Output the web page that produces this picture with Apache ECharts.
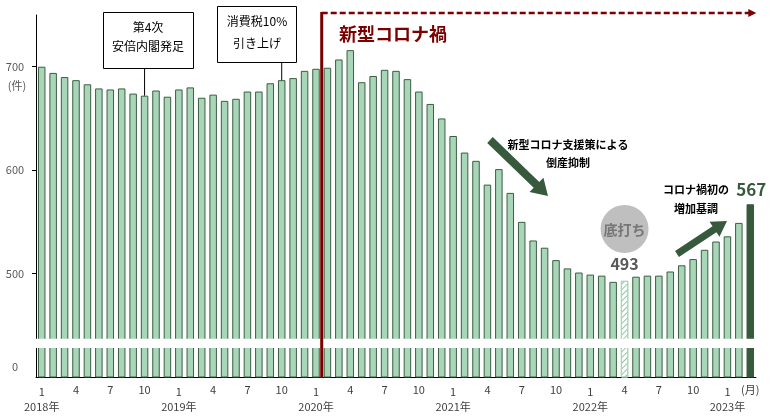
<!DOCTYPE html>
<html>
<head>
<meta charset="utf-8">
<script src="https://cdn.jsdelivr.net/npm/echarts@6/dist/echarts.min.js"></script>
<style>html,body{margin:0;padding:0;background:#fff}#c{width:770px;height:420px}</style>
</head>
<body>
<div id="c"></div>
<script>
// ---- data ----
const categories = [
  '2018/1','2018/2','2018/3','2018/4','2018/5','2018/6','2018/7','2018/8','2018/9','2018/10','2018/11','2018/12',
  '2019/1','2019/2','2019/3','2019/4','2019/5','2019/6','2019/7','2019/8','2019/9','2019/10','2019/11','2019/12',
  '2020/1','2020/2','2020/3','2020/4','2020/5','2020/6','2020/7','2020/8','2020/9','2020/10','2020/11','2020/12',
  '2021/1','2021/2','2021/3','2021/4','2021/5','2021/6','2021/7','2021/8','2021/9','2021/10','2021/11','2021/12',
  '2022/1','2022/2','2022/3','2022/4','2022/5','2022/6','2022/7','2022/8','2022/9','2022/10','2022/11','2022/12',
  '2023/1','2023/2','2023/3'
];
const bankruptcies = [
  700, 694, 690, 687, 683, 679, 678, 679, 674, 672, 677, 671,
  678, 680, 670, 673, 667, 669, 676, 676, 684, 687, 689, 696,
  698, 699, 707, 716, 685, 691, 697, 696, 688, 676, 664, 650,
  633, 617, 609, 586, 601, 578, 550, 532, 525, 513, 505, 501,
  499, 498, 492, 493, 497, 498, 498, 502, 508, 514, 523, 531,
  536, 549, 567
];
const shownMonths = ['1', '4', '7', '10'];
const monthUnitLabel = '(月)';
const yUnitLabel = '(件)';
const yTickValues = [500, 600, 700];
const yLabelValues = [410, 500, 600, 700];   // 410 = position of the broken-axis "0"
const yLabelTexts = ['0', '500', '600', '700'];
const axisBreak = [428, 437];
const bottomIndex = 51;   // 2022/4
const latestIndex = 62;   // 2023/3
const covidStartIndex = 25; // 2020/2
const cabinetIndex = 9;   // 2018/10
const taxIndex = 21;      // 2019/10

// ---- style ----
const FONT = '"Noto Sans CJK JP", "Noto Sans", sans-serif';
const BAR_FILL = '#a9d6b9';
const BAR_EDGE = '#3a5e41';
const DARK_GREEN = '#37593c';
const DARK_RED = '#7b0000';

const chart = echarts.init(document.getElementById('c'));

const barData = bankruptcies.map((v, i) => {
  if (i === bottomIndex) {
    return { value: v, itemStyle: { color: '#ffffff', borderColor: BAR_FILL,
      decal: { symbol: 'rect', color: '#8fc8a0', dashArrayX: [1, 0], dashArrayY: [1, 2.5], rotation: -Math.PI / 4, symbolSize: 1 } } };
  }
  if (i === latestIndex) {
    return { value: v, itemStyle: { color: DARK_GREEN, borderColor: DARK_GREEN } };
  }
  return v;
});

const labelStyle = { fontFamily: FONT, fontSize: 11, color: '#404040' };

chart.setOption({
  animation: false,
  grid: { left: 36, top: 15, width: 720, height: 362 },
  xAxis: {
    type: 'category',
    data: categories,
    boundaryGap: true,
    axisLine: { lineStyle: { color: '#000', width: 1 } },
    axisTick: { show: false },
    axisLabel: {
      interval: 0,
      margin: 6,
      formatter: (value, index) => {
        if (index === categories.length - 1) return '{m|' + monthUnitLabel + '}';
        const parts = value.split('/');
        const m = parts[1];
        if (m === '1') return '{j|1}\n{y|' + parts[0] + '年}';
        if (shownMonths.includes(m)) return '{m|' + m + '}';
        return '';
      },
      rich: {
        m: Object.assign({ lineHeight: 14 }, labelStyle),
        j: Object.assign({ lineHeight: 14, padding: [3, 0, 0, 0] }, labelStyle),
        y: Object.assign({ lineHeight: 19 }, labelStyle)
      }
    }
  },
  yAxis: {
    type: 'value',
    min: 400,
    max: 750,
    splitLine: { show: false },
    axisLine: { show: true, lineStyle: { color: '#000', width: 1 } },
    axisTick: { show: true, customValues: yTickValues, length: 4, lineStyle: { color: '#000' } },
    axisLabel: {
      customValues: yLabelValues,
      formatter: v => yLabelTexts[yLabelValues.indexOf(v)],
      margin: 21,
      align: 'center',
      fontFamily: FONT, fontSize: 11, color: '#595959'
    }
  },
  series: [
    {
      type: 'bar',
      data: barData,
      barWidth: 7.5,
      itemStyle: { color: BAR_FILL, borderColor: BAR_EDGE, borderWidth: 1 },
      z: 2
    },
    {
      type: 'custom',
      silent: true,
      z: 10,
      data: [[0, axisBreak[0], axisBreak[1]]],
      encode: { x: 0, y: [1, 2] },
      renderItem: (params, api) => {
        const cs = params.coordSys;
        const yTop = api.coord([0, api.value(2)])[1];
        const yBot = api.coord([0, api.value(1)])[1];
        return { type: 'rect', shape: { x: cs.x - 6, y: yTop, width: cs.width + 8, height: yBot - yTop }, style: { fill: '#fff' } };
      }
    }
  ]
});

// ---- annotations (positioned from the axes) ----
const px = (i, v) => chart.convertToPixel({ gridIndex: 0 }, [i, v]);
function arrowPoly(x1, y1, x2, y2, shaftW, headL, headW) {
  const dx = x2 - x1, dy = y2 - y1, L = Math.hypot(dx, dy);
  const ux = dx / L, uy = dy / L, nx = -uy, ny = ux;
  const bx = x2 - ux * headL, by = y2 - uy * headL;
  return [
    [x1 + nx * shaftW / 2, y1 + ny * shaftW / 2],
    [bx + nx * shaftW / 2, by + ny * shaftW / 2],
    [bx + nx * headW / 2, by + ny * headW / 2],
    [x2, y2],
    [bx - nx * headW / 2, by - ny * headW / 2],
    [bx - nx * shaftW / 2, by - ny * shaftW / 2],
    [x1 - nx * shaftW / 2, y1 - ny * shaftW / 2]
  ];
}
function txt(x, y, text, opt) {
  return Object.assign({ type: 'text', z: 100, x: x, y: y,
    style: Object.assign({ text: text, fontFamily: FONT, fontSize: 12, fill: '#000', align: 'center', verticalAlign: 'middle' }, opt || {}) });
}

const g = [];
const bottomY = px(0, 400)[1];
const topY = 13;

// y unit
g.push(txt(17, 86, yUnitLabel, { fontSize: 11, fill: '#595959' }));

// cabinet box
const cab = px(cabinetIndex, bankruptcies[cabinetIndex]);
g.push({ type: 'line', z: 100, shape: { x1: cab[0], y1: 69, x2: cab[0], y2: cab[1] }, style: { stroke: '#000', lineWidth: 1 } });
g.push({ type: 'rect', z: 100, shape: { x: 103.5, y: 12.5, width: 90, height: 56 }, style: { fill: '#fff', stroke: '#000', lineWidth: 1 } });
g.push(txt(148, 27, '第4次'));
g.push(txt(148, 46, '安倍内閣発足'));

// tax box
const tax = px(taxIndex, bankruptcies[taxIndex]);
g.push({ type: 'line', z: 100, shape: { x1: tax[0], y1: 62, x2: tax[0], y2: tax[1] }, style: { stroke: '#000', lineWidth: 1 } });
g.push({ type: 'rect', z: 100, shape: { x: 217.5, y: 6.5, width: 79, height: 56 }, style: { fill: '#fff', stroke: '#000', lineWidth: 1 } });
g.push(txt(257, 21, '消費税10%'));
g.push(txt(257, 43, '引き上げ'));

// covid line
const cx = (px(covidStartIndex - 1, 500)[0] + px(covidStartIndex, 500)[0]) / 2;
g.push({ type: 'line', z: 101, shape: { x1: cx, y1: topY - 1, x2: cx, y2: bottomY + 1 }, style: { stroke: DARK_RED, lineWidth: 3 } });
const endX = px(latestIndex, 500)[0] + 6;
g.push({ type: 'line', z: 101, shape: { x1: cx, y1: topY, x2: endX - 6, y2: topY }, style: { stroke: DARK_RED, lineWidth: 2.5, lineDash: [6, 3] } });
g.push({ type: 'polygon', z: 101, shape: { points: [[endX, topY], [endX - 8, topY - 4], [endX - 8, topY + 4]] }, style: { fill: DARK_RED } });
g.push(txt(393, 34, '新型コロナ禍', { fontSize: 18, fontWeight: 'bold', fill: DARK_RED }));

// falling arrow
g.push({ type: 'polygon', z: 100, shape: { points: arrowPoly(490, 140, 548, 196, 8, 16, 20) }, style: { fill: DARK_GREEN } });
g.push(txt(568, 145, '新型コロナ支援策による', { fontSize: 11, fontWeight: 'bold' }));
g.push(txt(568, 163, '倒産抑制', { fontSize: 11, fontWeight: 'bold' }));

// bottom
const bot = px(bottomIndex, bankruptcies[bottomIndex]);
g.push({ type: 'circle', z: 100, shape: { cx: bot[0], cy: 229, r: 24 }, style: { fill: '#bfbfbf' } });
g.push(txt(bot[0], 230, '底打ち', { fontSize: 14, fontWeight: 'bold', fill: '#767676' }));
g.push(txt(bot[0], bot[1] - 17, String(bankruptcies[bottomIndex]), { fontSize: 16, fontWeight: 'bold', fill: '#595959' }));

// rising arrow
g.push({ type: 'polygon', z: 100, shape: { points: arrowPoly(677, 254, 727, 221, 7, 15, 18) }, style: { fill: DARK_GREEN } });
g.push(txt(696, 190, 'コロナ禍初の', { fontSize: 11, fontWeight: 'bold' }));
g.push(txt(696, 209, '増加基調', { fontSize: 11, fontWeight: 'bold' }));

// latest
const lat = px(latestIndex, bankruptcies[latestIndex]);
g.push(txt(lat[0] + 1, lat[1] - 15, String(bankruptcies[latestIndex]), { fontSize: 17, fontWeight: 'bold', fill: DARK_GREEN }));

chart.setOption({ graphic: { elements: g } });
</script>
</body>
</html>
